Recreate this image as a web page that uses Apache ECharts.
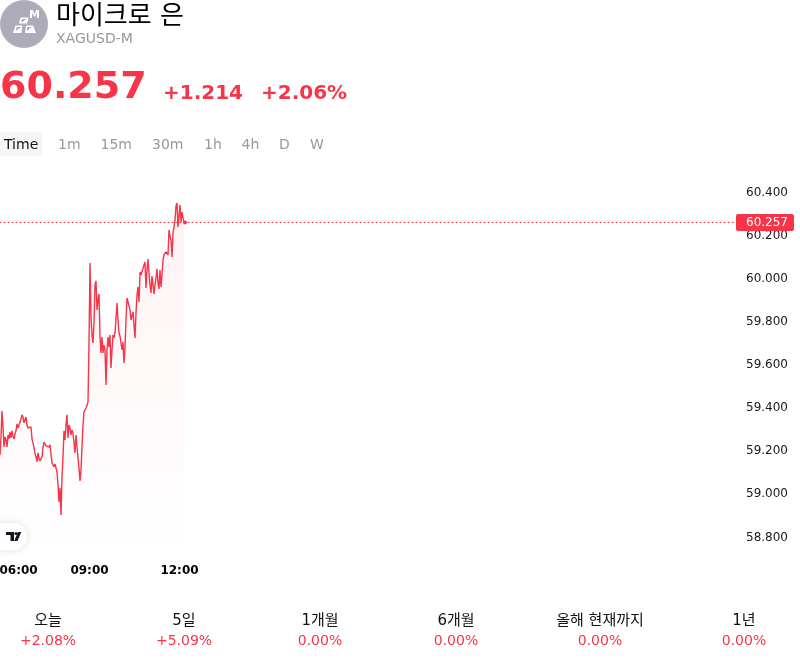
<!DOCTYPE html>
<html lang="ko">
<head>
<meta charset="utf-8">
<title>마이크로 은</title>
<style>html,body{margin:0;padding:0;background:#fff}#chart{width:800px;height:660px}</style>
<script src="https://cdn.jsdelivr.net/npm/echarts@6/dist/echarts.min.js"></script>
</head>
<body>
<div id="chart"></div>
<script>
// Two-minute closes, first sample at 06:01
const prices = [
  59.178,59.262,59.382,59.308,59.215,59.262,59.248,59.215,59.271,59.252,
  59.285,59.257,59.290,59.266,59.252,59.276,59.290,59.322,59.303,59.299,
  59.303,59.345,59.364,59.354,59.327,59.331,59.354,59.317,59.303,59.308,
  59.303,59.308,59.252,59.234,59.243,59.188,59.169,59.146,59.188,59.160,
  59.150,59.141,59.169,59.211,59.238,59.243,59.220,59.225,59.225,59.215,
  59.225,59.225,59.141,59.136,59.123,59.136,59.118,59.099,59.039,58.960,
  59.025,58.900,59.076,59.169,59.290,59.248,59.317,59.364,59.257,59.317,
  59.303,59.271,59.294,59.280,59.280,59.188,59.271,59.215,59.164,59.118,
  59.058,59.109,59.215,59.317,59.378,59.382,59.396,59.401,59.424,59.700,
  60.069,59.818,59.735,59.698,59.790,59.967,59.985,59.851,59.897,59.925,
  59.725,59.651,59.725,59.651,59.688,59.665,59.503,59.665,59.725,59.679,
  59.735,59.582,59.665,59.735,59.721,59.744,59.814,59.883,59.804,59.744,
  59.730,59.739,59.665,59.702,59.605,59.679,59.804,59.906,59.902,59.897,
  59.851,59.804,59.823,59.842,59.781,59.721,59.837,59.920,59.957,59.888,
  60.027,60.013,60.004,60.013,60.059,60.073,59.953,60.036,60.087,60.022,
  59.967,59.930,60.008,59.967,59.925,59.967,59.999,60.041,59.976,59.948,
  60.036,59.957,60.013,60.083,60.106,60.115,60.120,60.115,60.106,60.222,
  60.194,60.175,60.097,60.208,60.236,60.268,60.333,60.347,60.236,60.287,
  60.338,60.259,60.305,60.277,60.259,60.257
];
const minutes = prices.map((_, i) => 361 + 2 * i);
const lastPrice = 60.257;
const axisStart = 360;
const axisEnd = 1832;
const priceTicks = [58.8, 59.0, 59.2, 59.4, 59.6, 59.8, 60.0, 60.2, 60.4];
const timeTicks = [360, 540, 720];
const intervals = ['1m', '15m', '30m', '1h', '4h', 'D', 'W'];
const intervalX = [58, 100.5, 152, 204, 241.5, 279, 310];
const periods = ['오늘', '5일', '1개월', '6개월', '올해 현재까지', '1년'];
const periodChanges = ['+2.08%', '+5.09%', '0.00%', '0.00%', '0.00%', '0.00%'];
const periodX = [48, 184, 320, 456, 600, 744];

const RED = '#f73448';
const FONT = '"DejaVu Sans","Noto Sans CJK KR",sans-serif';

const txt = (x, y, text, size, fill, extra) => ({
  type: 'text', x, y,
  style: Object.assign({ text, font: `${size}px ${FONT}`, fill, textVerticalAlign: 'middle' }, extra || {})
});
const bold = (x, y, text, size, fill) => ({
  type: 'text', x, y,
  style: { text, font: `bold ${size}px ${FONT}`, fill, textVerticalAlign: 'middle' }
});
const poly = (points, fill, z) => ({ type: 'polygon', z: z || 0, shape: { points }, style: { fill } });

const graphics = [
  // instrument badge
  { type: 'circle', shape: { cx: 24, cy: 24, r: 24 }, style: { fill: '#aeabb9' } },
  poly([[20.5, 17.5], [28.5, 17.5], [27, 23.5], [19, 23.5]], '#fff'),
  poly([[22, 19], [26.5, 19], [22, 22], [21, 22]], '#aeabb9'),
  poly([[15.5, 25.5], [22.5, 25.5], [21.5, 33], [13, 33]], '#fff'),
  poly([[17, 27], [21, 27], [16.5, 30.5], [15.5, 30.5]], '#aeabb9'),
  poly([[26, 25.5], [33, 25.5], [36, 33], [25, 33]], '#fff'),
  poly([[27.5, 27], [31.5, 27], [27.5, 30.5], [26.5, 30.5]], '#aeabb9'),
  bold(29, 15, 'M', 11, '#fff'),
  // header
  txt(56, 17, '마이크로 은', 26, '#000'),
  txt(56, 39, 'XAGUSD-M', 14, '#999'),
  bold(0, 88, '60.257', 38, RED),
  bold(163, 94, '+1.214', 20, RED),
  bold(261, 94, '+2.06%', 20, RED),
  // interval tabs
  { type: 'rect', shape: { x: 0, y: 132, width: 42, height: 24, r: 4 }, style: { fill: '#f5f5f5' } },
  txt(4, 145, 'Time', 14, '#111'),
  ...intervals.map((t, i) => txt(intervalX[i], 145, t, 14, '#999')),
  // attribution badge
  { type: 'rect', z: 5, shape: { x: -14, y: 523, width: 41, height: 27, r: 13.5 },
    style: { fill: '#fff', shadowBlur: 8, shadowColor: 'rgba(0,0,0,0.12)' } },
  poly([[6, 532], [14, 532], [14, 541], [10.5, 541], [10.5, 535], [6, 535]], '#131722', 6),
  { type: 'circle', z: 6, shape: { cx: 16, cy: 533.5, r: 1.6 }, style: { fill: '#131722' } },
  poly([[18, 532], [21.3, 532], [17.5, 541], [14.2, 541]], '#131722', 6),
  // performance row
  ...periods.map((t, i) => txt(periodX[i], 621, t, 15, '#111', { textAlign: 'center' })),
  ...periodChanges.map((t, i) => txt(periodX[i], 641, t, 14, RED, { textAlign: 'center' }))
];

const chart = echarts.init(document.getElementById('chart'));
chart.setOption({
  animation: false,
  backgroundColor: '#fff',
  textStyle: { fontFamily: FONT },
  graphic: { elements: graphics },
  grid: { left: -0.5, width: 736, top: 170, height: 388, outerBoundsMode: 'none' },
  xAxis: {
    type: 'value', min: axisStart, max: axisEnd,
    axisLine: { show: false }, axisTick: { show: false }, splitLine: { show: false },
    axisLabel: {
      customValues: timeTicks,
      alignMinLabel: 'left',
      margin: 7,
      fontSize: 12, fontWeight: 'bold', color: '#000', fontFamily: FONT,
      formatter: v => String(Math.floor(v / 60)).padStart(2, '0') + ':' + String(v % 60).padStart(2, '0')
    }
  },
  yAxis: {
    type: 'value', position: 'right', min: 58.7, max: 60.5,
    axisLine: { show: false }, axisTick: { show: false }, splitLine: { show: false },
    axisLabel: {
      customValues: priceTicks,
      margin: 10.5,
      verticalAlign: 'top',
      lineHeight: 12,
      padding: [-5, 0, 0, 0],
      fontSize: 12, color: '#1a1a1a', fontFamily: FONT,
      formatter: v => v.toFixed(3)
    }
  },
  series: [{
    // dotted last-price level with its price tag at the right edge
    type: 'line',
    data: [[axisStart, lastPrice], [axisEnd, lastPrice]],
    showSymbol: false, silent: true, z: 2,
    lineStyle: { color: RED, width: 1, type: [2, 2] },
    itemStyle: { color: RED },
    endLabel: {
      show: true, distance: 0.5,
      formatter: () => lastPrice.toFixed(3),
      color: '#fff', fontSize: 12, fontFamily: FONT,
      backgroundColor: RED, padding: [3, 6, 2, 10], borderRadius: 2
    }
  }, {
    type: 'line',
    data: minutes.map((m, i) => [m, prices[i]]),
    showSymbol: false, smooth: false, z: 3,
    lineStyle: { color: RED, width: 1.4 },
    itemStyle: { color: RED },
    areaStyle: {
      color: new echarts.graphic.LinearGradient(0, 0, 0, 1, [
        { offset: 0, color: 'rgba(247,52,72,0.09)' },
        { offset: 1, color: 'rgba(247,52,72,0)' }
      ])
    },
    markPoint: {
      silent: true, symbol: 'circle', symbolSize: 4, animation: false,
      itemStyle: { color: RED }, label: { show: false },
      data: [{ coord: [minutes[minutes.length - 1], lastPrice] }]
    }
  }]
});
</script>
</body>
</html>
